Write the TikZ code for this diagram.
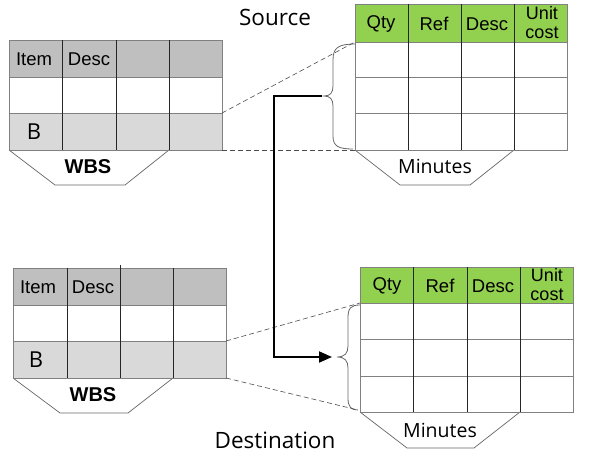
\documentclass[tikz,border=0pt]{standalone}
\usepackage{fontspec}
\setmainfont{Liberation Sans}
\newfontfamily\segoe{Open Sans}
\usetikzlibrary{arrows.meta}

\definecolor{hdrgray}{HTML}{BFBFBF}
\definecolor{rowgray}{HTML}{D9D9D9}
\definecolor{hdrgreen}{HTML}{92D050}
\definecolor{linegray}{HTML}{808080}

\tikzset{
    tline/.style={draw=linegray, line width=0.9pt},
    cline/.style={draw=black!85, line width=0.8pt},
    link/.style={draw=black!70, dashed, line width=0.6pt, dash pattern=on 5pt off 3pt},
    brace/.style={draw=black!60, line width=0.8pt},
    flow/.style={draw=black, line width=2pt, -{Triangle[length=13pt,width=11pt]}},
    lid/.style={draw=black!60, fill=white, line width=0.7pt},
    big/.style={font=\segoe\fontsize{22.5}{24}\selectfont}
}

\begin{document}
\begin{tikzpicture}[x=1pt,y=-1pt]
\useasboundingbox (0,0) rectangle (598,458);
\begin{scope}[every node/.style={inner sep=0pt, font=\fontsize{18.5}{20}\selectfont}]

    % source WBS
    \fill [hdrgray] (9,40) rectangle (222,77);
    \fill [rowgray] (9,113) rectangle (222,150);
    \draw [lid] (9,150) -- (55,185) -- (125,185) -- (169,150);
    \draw [tline] (9,40) rectangle (222,150);
    \draw [tline] (9,77) -- (222,77);
    \draw [tline] (9,113) -- (222,113);
    \draw [cline] (62,40) -- (62,150);
    \draw [cline] (116,40) -- (116,150);
    \draw [cline] (169,40) -- (169,150);

    \node (si) at (34,59) {Item};
    \node (sd) at (89,59) {Desc};
    \node [font=\segoe\fontsize{22}{24}\selectfont] (sb) at (34,132) {B};
    \node [font=\fontsize{20}{22}\selectfont\bfseries] (sw) at (88,167) {WBS};

    \coordinate (s1) at (222,113);
    \coordinate (s2) at (222,150);

    % source minutes
    \fill [hdrgreen] (355,4) rectangle (567,42);
    \draw [lid] (355,150) -- (400,185) -- (470,185) -- (514,150);
    \draw [tline] (355,4) rectangle (567,150);
    \draw [tline] (355,42) -- (567,42);
    \draw [tline] (355,77) -- (567,77);
    \draw [tline] (355,113) -- (567,113);
    \draw [cline] (408,4) -- (408,150);
    \draw [cline] (461,4) -- (461,150);
    \draw [cline] (514,4) -- (514,150);

    \node (sq) at (381,24) {Qty};
    \node (sr) at (434,24) {Ref};
    \node (sc) at (487,24) {Desc};
    \node [align=center, font=\fontsize{18}{19}\selectfont] (su) at (542,23) {Unit\\cost};
    \node [font=\segoe\fontsize{19.5}{21}\selectfont] (sm) at (435,166) {Minutes};
    \node [big] (src) at (275,17) {Source};

    \coordinate (m1) at (355,42);
    \coordinate (m2) at (355,150);

    \draw [brace] (355,44) .. controls (338,44) and (333,48) .. (333,60) -- (333,86)
        .. controls (333,93) and (330,96) .. (324,96)
        .. controls (330,96) and (333,99) .. (333,106) -- (333,136)
        .. controls (333,146) and (338,149) .. (353,149);
    \coordinate (sbr) at (322,96);

    % destination WBS
    \fill [hdrgray] (13,268) rectangle (226,305);
    \fill [rowgray] (13,341) rectangle (226,378);
    \draw [lid] (13,378) -- (60,413) -- (128,413) -- (173,378);
    \draw [tline] (13,268) rectangle (226,378);
    \draw [tline] (13,305) -- (226,305);
    \draw [tline] (13,341) -- (226,341);
    \draw [cline] (67,268) -- (67,378);
    \draw [cline] (120,265) -- (120,378);
    \draw [cline] (173,268) -- (173,378);

    \node (di) at (38,287) {Item};
    \node (dd) at (93,287) {Desc};
    \node [font=\segoe\fontsize{22}{24}\selectfont] (db) at (36,360) {B};
    \node [font=\fontsize{20}{22}\selectfont\bfseries] (dw) at (93,395) {WBS};

    \coordinate (d1) at (226,341);
    \coordinate (d2) at (226,378);

    % destination minutes
    \fill [hdrgreen] (360,267) rectangle (573,303);
    \draw [lid] (360,412) -- (407,448) -- (474,448) -- (520,412);
    \draw [tline] (360,267) rectangle (573,412);
    \draw [tline] (360,303) -- (573,303);
    \draw [tline] (360,339) -- (573,339);
    \draw [tline] (360,376) -- (573,376);
    \draw [cline] (413.5,267) -- (413.5,412);
    \draw [cline] (467,267) -- (467,412);
    \draw [cline] (520,267) -- (520,412);

    \node (dq) at (387,286) {Qty};
    \node (dr) at (440,286) {Ref};
    \node (dc) at (493,286) {Desc};
    \node [align=center, font=\fontsize{18}{19}\selectfont] (du) at (547,285) {Unit\\cost};
    \node [font=\segoe\fontsize{19.5}{21}\selectfont] (dm) at (440,430) {Minutes};
    \node [big] (dst) at (275,440) {Destination};

    \coordinate (n1) at (360,303);
    \coordinate (n2) at (358,410);

    \draw [brace] (360,305) .. controls (351,305) and (348,308) .. (348,318) -- (348,346)
        .. controls (348,353) and (345,357) .. (337,357)
        .. controls (345,357) and (348,361) .. (348,368) -- (348,398)
        .. controls (348,407) and (351,410) .. (358,410);
    \coordinate (dbr) at (332,357);

    % links
    \draw [link] (s1) -- (m1);
    \draw [link] (s2) -- (m2);
    \draw [link] (d1) -- (n1);
    \draw [link] (d2) -- (n2);

    \draw [flow] (sbr) -- (274,96) |- (dbr);

\end{scope}
\end{tikzpicture}
\end{document}
